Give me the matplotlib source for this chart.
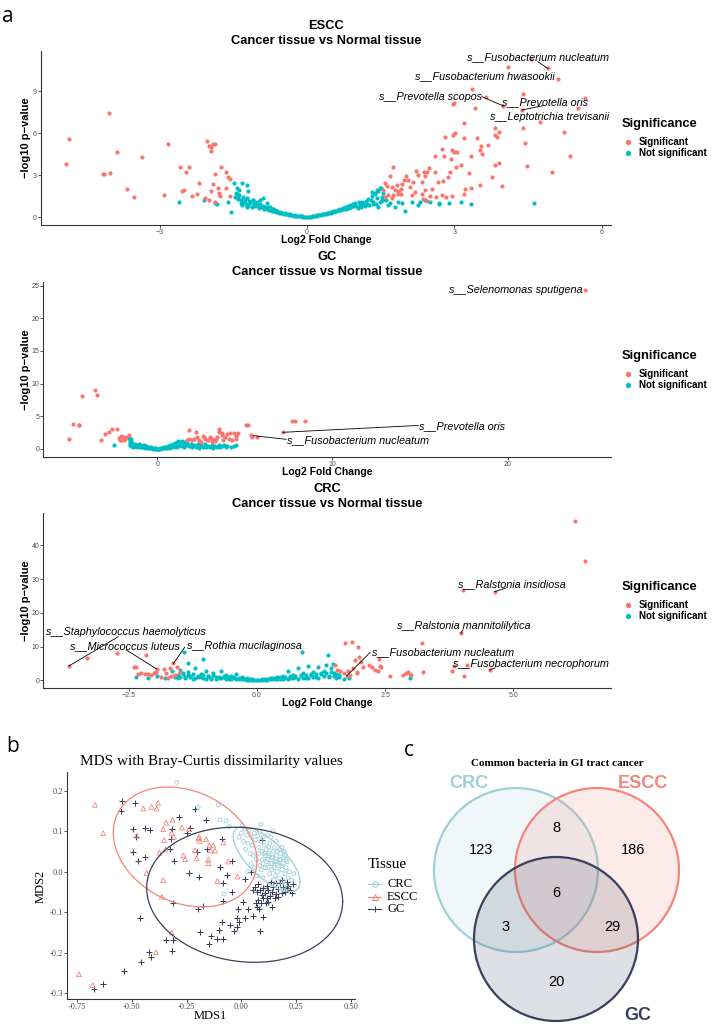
import numpy as np
import matplotlib.pyplot as plt
from matplotlib.lines import Line2D
from matplotlib.patches import Circle

W, H = 715, 1034
RED = '#F8766D'
TEAL = '#00BFC4'
CRC_COL = '#9fd0d8'
ESCC_COL = '#f4857a'
GC_COL = '#3a3f5e'
SANS = 'Liberation Sans'
SERIF = 'Liberation Serif'

# ---------------- volcano data (log2 fold change, -log10 p) ----------------
escc_sig = [(-4.91, 3.79), (-4.84, 5.57), (-4.02, 7.43), (-4.16, 3.05), (-4.13, 3.05), (-4.01, 3.12),
            (-3.86, 4.64), (-3.67, 2.02), (-3.52, 1.45), (-3.35, 4.26), (-2.90, 1.57), (-2.82, 5.21),
            (-2.59, 3.60), (-2.46, 3.19), (-2.40, 3.55), (-2.55, 1.86), (-2.50, 1.90), (-2.34, 1.52),
            (-2.24, 1.67), (-2.19, 2.40), (-2.08, 1.33), (-2.04, 5.43), (-2.00, 5.10), (-1.96, 5.02),
            (-1.91, 5.19), (-1.87, 5.21), (-1.96, 4.74), (-1.99, 1.21), (-1.96, 1.86), (-1.91, 2.33),
            (-1.87, 3.05), (-1.81, 2.05), (-1.77, 1.50), (-1.75, 3.60), (-1.65, 3.24), (-1.64, 2.10),
            (-1.60, 2.88), (-1.56, 2.71), (-1.57, 1.52), (-1.79, 1.74), (-1.88, 1.10),
            (4.56, 11.31), (4.90, 10.62), (4.09, 10.74), (5.11, 9.88), (3.37, 9.12), (4.39, 8.76),
            (3.65, 8.55), (3.00, 8.12), (2.98, 8.08), (4.00, 7.93), (3.42, 7.76), (5.66, 8.52),
            (5.51, 7.76), (4.37, 7.64), (4.75, 6.76), (4.39, 6.38), (3.82, 6.33), (3.83, 5.86),
            (3.86, 5.74), (3.92, 6.10), (5.24, 6.07), (3.19, 6.69), (3.02, 5.98), (2.98, 5.86),
            (2.82, 5.74), (3.20, 5.62), (3.46, 5.62), (4.44, 5.31), (3.54, 5.10), (3.52, 4.79),
            (3.57, 4.50), (3.69, 5.14), (2.74, 4.83), (2.95, 4.79), (3.00, 4.67), (3.05, 4.62),
            (2.93, 4.17), (3.03, 3.60), (3.14, 3.71), (2.61, 4.38), (2.80, 4.38), (5.36, 4.36),
            (3.35, 4.38), (3.29, 3.12), (3.90, 3.83), (3.82, 3.71), (4.47, 3.67), (4.98, 3.24),
            (3.77, 2.88), (3.98, 2.24), (3.52, 2.29), (3.33, 2.05), (3.22, 2.00), (3.19, 1.62),
            (2.91, 3.24), (2.87, 2.88), (2.76, 2.57), (2.67, 2.48), (2.61, 3.24), (2.48, 3.48),
            (2.44, 3.19), (2.40, 2.95), (2.38, 3.19), (2.34, 2.52), (2.27, 3.00), (2.23, 3.31),
            (2.16, 2.52), (2.10, 2.17), (2.06, 2.64), (2.01, 2.93), (1.97, 2.64), (1.75, 3.55),
            (1.69, 2.95), (1.58, 2.45), (1.64, 2.21), (1.74, 2.12), (1.83, 2.29), (1.93, 2.36),
            (1.91, 2.00), (1.91, 1.64), (1.85, 1.62), (1.79, 1.93), (1.86, 1.83), (1.76, 1.57),
            (1.66, 1.60), (1.73, 1.33), (1.55, 1.93), (1.59, 1.45), (2.74, 1.57), (2.84, 1.45),
            (2.95, 1.52), (2.51, 1.52), (2.55, 2.00), (2.63, 1.45), (2.40, 1.95), (2.34, 1.67),
            (2.20, 1.79), (2.13, 1.55), (2.37, 1.31), (2.44, 1.12)]
escc_ns = [(-2.60, 1.10), (-2.10, 1.21), (-1.87, 0.98), (-1.83, 0.93), (-1.60, 1.05), (-1.55, 0.38),
           (-1.48, 2.45), (-1.43, 2.05), (-1.38, 1.93), (-1.32, 2.45), (-1.22, 2.29), (-1.19, 1.88),
           (-1.47, 1.45), (-1.40, 1.33), (-1.35, 0.98), (-1.26, 1.21), (-1.23, 0.74), (-1.16, 1.10),
           (-1.09, 1.21), (-1.03, 0.98), (-0.96, 1.21), (-0.89, 1.33), (-0.82, 0.98), (-0.75, 0.74),
           (-0.69, 0.55),
           (-1.45, 1.75), (-1.42, 1.62), (-1.40, 1.30), (-1.38, 1.55), (-1.35, 1.20), (-1.33, 0.85),
           (-1.30, 1.45), (-1.28, 1.05), (-1.25, 0.95), (-1.22, 1.35), (-1.20, 0.80), (-1.18, 1.15),
           (-1.15, 1.02), (-1.12, 0.70), (-1.10, 1.25), (-1.08, 0.90), (-1.05, 0.78), (-1.02, 1.05),
           (-1.00, 0.88), (-0.98, 0.65), (-0.95, 0.95), (-0.92, 0.72), (-0.90, 0.82), (-0.88, 0.60),
           (-0.85, 0.75), (-0.82, 0.55), (-0.80, 0.68), (-0.77, 0.50), (-0.75, 0.62), (-0.72, 0.45),
           (-0.70, 0.55), (-0.67, 0.40), (-0.65, 0.48), (-0.62, 0.35), (-0.60, 0.42), (-0.57, 0.30),
           (-0.55, 0.36), (-0.52, 0.26), (-0.50, 0.31), (-0.47, 0.22), (-0.45, 0.27), (-0.42, 0.19),
           (-0.40, 0.23), (-0.37, 0.16), (-0.35, 0.19), (-0.32, 0.13), (-0.30, 0.15), (-0.27, 0.10),
           (-0.25, 0.12), (-0.22, 0.08), (-0.20, 0.09), (-0.17, 0.06), (-0.15, 0.07), (-0.12, 0.04),
           (-0.10, 0.05), (-0.07, 0.03), (-0.05, 0.02), (-0.02, 0.01),
           (0.02, 0.01), (0.05, 0.02), (0.08, 0.03), (0.10, 0.05), (0.13, 0.06), (0.15, 0.08),
           (0.18, 0.09), (0.20, 0.11), (0.23, 0.13), (0.25, 0.15), (0.28, 0.14), (0.30, 0.18),
           (0.33, 0.20), (0.35, 0.23), (0.38, 0.22), (0.40, 0.27), (0.43, 0.30), (0.45, 0.26),
           (0.48, 0.35), (0.50, 0.32), (0.53, 0.40), (0.55, 0.36), (0.58, 0.45), (0.60, 0.41),
           (0.63, 0.52), (0.65, 0.47), (0.68, 0.58), (0.70, 0.50), (0.73, 0.65), (0.75, 0.55),
           (0.78, 0.72), (0.80, 0.60), (0.83, 0.80), (0.85, 0.66), (0.88, 0.85), (0.90, 0.70),
           (0.93, 0.92), (0.95, 0.78), (0.98, 1.00), (1.00, 0.82), (1.03, 0.65), (1.05, 1.05),
           (1.08, 0.88), (1.10, 0.72), (1.13, 1.10), (1.15, 0.95), (1.18, 0.78), (1.20, 1.15),
           (1.22, 0.92), (1.25, 1.30), (1.27, 0.85), (1.30, 1.20), (1.32, 1.50), (1.35, 1.05),
           (1.38, 1.65), (1.40, 0.95), (1.42, 1.35), (1.45, 1.85), (1.48, 1.10), (1.50, 2.05),
           (1.52, 1.40), (1.55, 1.20),
           (4.62, 1.02), (3.35, 0.90), (3.14, 1.10), (2.90, 0.98), (2.68, 1.02), (2.68, 0.93),
           (2.50, 1.10), (2.40, 1.21), (2.30, 1.10), (2.27, 0.86), (2.13, 1.10), (1.99, 0.45),
           (1.93, 0.98), (1.79, 0.74), (1.66, 0.86), (1.52, 1.21), (1.38, 1.69), (1.32, 1.81),
           (1.49, 2.05), (1.42, 1.93), (1.55, 1.70), (1.60, 1.20), (1.70, 1.00), (1.85, 1.05),
           (1.45, 0.75), (1.35, 0.90)]

gc_sig = [(-5.03, 1.48), (-4.84, 3.83), (-4.50, 3.60), (-4.48, 3.72), (-4.29, 8.16), (-3.58, 9.03),
          (-3.43, 8.32), (-3.22, 1.43), (-2.97, 2.24), (-2.78, 2.55), (-2.59, 3.11), (-2.29, 3.11),
          (-2.19, 1.70), (-2.10, 1.45), (-1.98, 1.85), (-1.90, 1.40), (-1.79, 1.80), (-1.64, 2.10),
          (-2.15, 1.30), (-2.05, 2.00), (-1.85, 1.60), (1.70, 1.40), (1.80, 1.50), (1.83, 2.86),
          (1.98, 1.30), (2.11, 1.60), (2.19, 2.55), (2.27, 1.90), (2.36, 1.40), (2.49, 1.10),
          (2.60, 2.00), (2.65, 1.80), (2.74, 1.50), (2.88, 1.30), (2.99, 1.90), (3.10, 1.10),
          (3.12, 1.60), (3.20, 1.40), (3.30, 1.20), (3.35, 1.50), (3.43, 1.90), (3.50, 2.60),
          (3.54, 3.00), (3.68, 2.10), (3.72, 2.45), (3.77, 1.40), (3.88, 1.90), (3.96, 2.30),
          (4.07, 1.60), (4.17, 2.50), (4.27, 1.40), (4.36, 2.50), (4.48, 1.60), (4.50, 2.00),
          (4.60, 2.50), (5.07, 3.67), (5.15, 3.62), (5.33, 2.14), (5.43, 1.89), (5.68, 1.89),
          (7.16, 2.55), (7.68, 4.23), (7.87, 4.23), (8.42, 4.23), (24.44, 24.35)]
gc_ns = [(-2.48, 0.56), (-1.60, 1.70), (-1.58, 1.35), (-1.57, 1.05), (-1.55, 0.80), (-1.55, 0.55),
         (-1.52, 1.50), (-1.50, 0.40), (-1.48, 1.20), (-1.45, 0.65), (-1.42, 0.90), (-1.40, 0.35),
         (-1.35, 0.55), (-1.30, 0.75), (-1.25, 0.40), (-1.20, 0.60), (-1.15, 0.30), (-1.10, 0.50),
         (-1.05, 0.70), (-1.00, 0.35), (-0.95, 0.55), (-0.90, 0.25), (-0.85, 0.45), (-0.80, 0.30),
         (-0.75, 0.60), (-0.70, 0.20), (-0.65, 0.40), (-0.60, 0.25), (-0.55, 0.15), (-0.50, 0.35),
         (-0.45, 0.20), (-0.40, 0.10), (-0.35, 0.25), (-0.30, 0.12), (-0.25, 0.06), (-0.20, 0.15),
         (-0.15, 0.05), (-0.10, 0.08), (-0.05, 0.02), (0.00, 0.01), (0.05, 0.03), (0.10, 0.06),
         (0.15, 0.04), (0.20, 0.10), (0.25, 0.15), (0.30, 0.08), (0.35, 0.20), (0.40, 0.28),
         (0.45, 0.12), (0.50, 0.35), (0.55, 0.22), (0.60, 0.45), (0.65, 0.30), (0.70, 0.55),
         (0.75, 0.18), (0.80, 0.65), (0.85, 0.40), (0.90, 0.75), (0.95, 0.28), (1.00, 0.90),
         (1.05, 0.50), (1.10, 1.05), (1.15, 0.35), (1.20, 1.20), (1.25, 0.65), (1.30, 1.10),
         (1.35, 0.45), (1.40, 1.25), (1.45, 0.80), (1.50, 0.95), (1.55, 0.30), (1.60, 1.10),
         (1.65, 0.55), (1.70, 0.85), (1.80, 0.40), (1.90, 0.70), (2.00, 0.25), (2.10, 0.60),
         (2.20, 0.35), (2.30, 0.80), (2.40, 0.20), (2.50, 0.55), (2.60, 0.30), (2.70, 0.70),
         (2.80, 0.25), (2.90, 0.50), (3.00, 0.35), (3.10, 0.65), (3.20, 0.20), (3.30, 0.45),
         (3.40, 0.30), (3.50, 0.55), (3.60, 0.25), (3.70, 0.40), (3.80, 0.60), (3.90, 0.25),
         (4.00, 0.45), (4.20, 0.30), (4.40, 0.50), (4.50, 0.65)]

crc_sig = [(-3.67, 4.25), (-3.31, 6.70), (-2.73, 8.20), (-2.17, 7.50), (-2.40, 4.00), (-2.36, 3.80),
           (-2.32, 2.00), (-2.26, 2.10), (-2.19, 1.90), (-2.13, 1.80), (-2.06, 1.60), (-2.01, 2.10),
           (-1.96, 3.36), (-1.97, 2.60), (-1.82, 3.40), (-1.78, 2.30), (-1.70, 3.50), (-1.63, 5.00),
           (-1.57, 4.00), (-1.50, 2.40), (-1.60, 1.60), (-1.67, 1.30), (-1.87, 1.10), (-1.74, 0.60),
           (1.52, 4.54), (1.56, 3.06), (1.62, 2.86), (1.69, 2.07), (1.72, 10.96), (1.85, 11.46),
           (1.88, 3.56), (1.95, 2.57), (1.98, 9.98), (1.82, 1.58), (1.75, 1.28), (1.78, 2.77),
           (1.91, 6.02), (2.00, 7.00), (1.95, 2.07), (2.04, 5.53), (2.06, 4.05), (2.19, 4.54),
           (2.25, 3.85), (2.30, 3.06), (2.36, 2.86), (2.40, 4.35), (2.43, 4.05), (2.38, 6.22),
           (2.60, 1.38), (2.85, 1.58), (2.90, 2.07), (2.94, 2.47), (2.98, 1.88), (3.00, 1.58),
           (3.22, 11.16), (3.25, 2.57), (3.80, 2.86), (3.84, 4.25), (3.98, 13.93), (4.03, 26.77),
           (4.04, 1.38), (4.10, 4.64), (4.54, 3.06), (4.64, 26.27), (6.21, 47.21), (6.41, 35.36)]
crc_ns = [(-2.37, 0.90), (-2.12, 0.60), (-1.95, 1.20), (-1.80, 0.80), (-1.43, 8.30), (-1.06, 6.30),
          (-1.34, 5.00), (0.87, 8.30), (1.39, 7.50), (1.49, 4.80), (2.99, 0.60), (1.70, 0.40),
          (1.80, 0.60),
          (-1.65, 2.8), (-1.60, 1.2), (-1.55, 0.6), (-1.50, 3.2), (-1.45, 1.8), (-1.40, 0.9),
          (-1.35, 2.5), (-1.30, 1.4), (-1.25, 0.5), (-1.20, 3.6), (-1.15, 1.1), (-1.10, 2.0),
          (-1.05, 0.7), (-1.00, 2.9), (-0.95, 1.3), (-0.90, 0.4), (-0.85, 2.2), (-0.80, 1.0),
          (-0.75, 0.6), (-0.70, 2.8), (-0.65, 0.9), (-0.60, 1.6), (-0.55, 0.4), (-0.50, 1.2),
          (-0.45, 0.7), (-0.40, 2.0), (-0.35, 0.5), (-0.30, 1.0), (-0.25, 0.3), (-0.20, 0.7),
          (-0.15, 0.2), (-0.10, 0.4), (-0.05, 0.1), (0.00, 0.05), (0.05, 0.15), (0.10, 0.3),
          (0.15, 0.2), (0.20, 0.5), (0.25, 0.3), (0.30, 0.8), (0.35, 0.4), (0.40, 1.1),
          (0.45, 0.5), (0.50, 1.4), (0.55, 0.6), (0.60, 2.8), (0.65, 0.8), (0.70, 1.6),
          (0.75, 0.9), (0.80, 3.6), (0.85, 1.2), (0.90, 2.2), (0.95, 0.7), (1.00, 4.3),
          (1.05, 1.5), (1.10, 2.6), (1.15, 0.9), (1.20, 4.0), (1.25, 1.8), (1.30, 2.9),
          (1.35, 4.5), (1.40, 1.2), (1.45, 3.6), (1.50, 2.2), (1.55, 0.8), (1.60, 1.6),
          (-1.6, 0.9), (-1.5, 1.1), (-1.4, 0.7), (-1.3, 1.0), (-1.2, 0.6), (-1.1, 0.9),
          (-1.0, 0.5), (-0.9, 0.8), (-0.8, 0.4), (-0.7, 0.7), (-0.6, 0.35), (-0.5, 0.5),
          (-0.4, 0.25), (-0.3, 0.35), (-0.2, 0.15), (-0.1, 0.1), (0.0, 0.02), (0.1, 0.1),
          (0.2, 0.2), (0.3, 0.3), (0.4, 0.25), (0.5, 0.45), (0.6, 0.4), (0.7, 0.6),
          (0.8, 0.5), (0.9, 0.8), (1.0, 0.6), (1.1, 1.0), (1.2, 0.7), (1.3, 1.2),
          (1.4, 0.9), (1.5, 1.3), (1.6, 1.0),
          (-1.55, 1.6), (-1.45, 2.2), (-1.35, 1.5), (-1.25, 1.9), (-1.15, 1.4), (-1.05, 1.7),
          (-0.95, 1.2), (-0.85, 1.5), (-0.75, 1.1), (-0.65, 1.3), (-0.55, 0.9), (-0.45, 1.0),
          (-0.35, 0.7), (-0.25, 0.5), (-0.15, 0.4), (0.15, 0.4), (0.25, 0.6), (0.35, 0.8),
          (0.45, 0.9), (0.55, 1.1), (0.65, 1.2), (0.75, 1.4), (0.85, 1.5), (0.95, 1.7),
          (1.05, 1.9), (1.15, 2.0), (1.25, 2.3), (1.35, 2.1), (1.45, 2.5), (1.55, 2.0)]

# labelled species: text, text centre (x, y), leader line start -> end (or None)
escc_labels = [("s__Fusobacterium nucleatum", 4.70, 11.40, (4.70, 11.10, 4.90, 10.62)),
               ("s__Fusobacterium hwasookii", 3.62, 10.07, None),
               ("s__Prevotella scopos", 2.51, 8.60, (3.56, 8.60, 4.00, 7.93)),
               ("s__Prevotella oris", 4.85, 8.19, (4.37, 7.64, 4.80, 7.95)),
               ("s__Leptotrichia trevisanii", 4.94, 7.17, None)]
gc_labels = [("s__Selenomonas sputigena", 20.46, 24.35, None),
             ("s__Prevotella oris", 17.4, 3.52, (14.9, 3.6, 7.16, 2.55)),
             ("s__Fusobacterium nucleatum", 11.44, 1.38, (7.35, 1.48, 5.49, 2.04))]
crc_labels = [("s__Staphylococcus haemolyticus", -2.55, 14.42, (-2.71, 12.9, -3.67, 4.25)),
              ("s__Micrococcus luteus", -2.58, 10.17, (-2.55, 9.0, -1.96, 3.36)),
              ("s__Rothia mucilaginosa", -0.24, 10.17, (-1.41, 9.8, -1.63, 5.0)),
              ("s__Fusobacterium nucleatum", 3.63, 8.49, (2.21, 8.3, 1.75, 1.28)),
              ("s__Ralstonia insidiosa", 4.97, 28.5, (4.85, 27.3, 4.64, 26.27)),
              ("s__Ralstonia mannitolilytica", 4.04, 16.2, (4.02, 15.0, 3.98, 13.93)),
              ("s__Fusobacterium necrophorum", 5.34, 4.84, (4.65, 3.7, 4.54, 3.06))]

# ---------------- MDS data ----------------
mds_crc = [(-0.296, 0.220), (-0.197, 0.159), (-0.105, 0.165), (-0.098, 0.128), (-0.070, 0.126),
           (-0.055, 0.111), (0.090, 0.117), (-0.079, -0.055),
           (0.000, 0.095), (0.015, 0.105), (0.025, 0.090), (0.035, 0.100), (0.045, 0.085), (0.010, 0.075),
           (0.030, 0.070), (0.050, 0.065), (0.060, 0.095), (0.065, 0.078), (0.075, 0.088), (0.080, 0.060),
           (0.085, 0.100), (0.090, 0.075), (0.095, 0.050), (0.100, 0.085), (0.105, 0.065), (0.110, 0.040),
           (0.115, 0.055), (0.120, 0.030), (0.125, 0.045), (0.130, 0.070), (0.135, 0.020), (0.140, 0.035),
           (0.145, 0.050), (0.150, 0.010), (0.155, 0.025), (0.160, 0.040), (0.165, 0.000), (0.170, 0.015),
           (0.175, 0.030), (0.180, 0.045), (0.185, 0.005), (0.190, 0.020), (0.195, 0.035), (0.200, -0.005),
           (0.205, 0.010), (0.210, 0.025), (0.215, -0.015), (0.220, 0.000), (0.140, 0.005), (0.150, 0.060),
           (0.160, 0.075), (0.120, 0.090), (0.110, 0.010), (0.100, 0.020), (0.130, -0.005), (0.150, -0.020),
           (0.170, -0.030), (0.190, -0.045), (0.210, -0.040), (0.230, -0.020), (0.240, -0.005), (0.175, 0.055),
           (0.195, 0.050), (0.135, 0.085), (0.145, 0.100), (0.055, 0.040), (0.070, 0.030), (0.085, 0.015),
           (0.040, 0.045), (0.020, 0.055), (-0.010, 0.085), (0.005, 0.115), (0.125, 0.060), (0.165, 0.050),
           (0.185, 0.060), (0.200, 0.040), (0.115, 0.025), (0.090, 0.005), (0.155, -0.010), (0.175, -0.015),
           (0.195, -0.025), (0.120, 0.010), (0.140, 0.020), (0.160, 0.025), (0.180, 0.030), (0.145, 0.035),
           (0.165, 0.020), (0.185, 0.015), (0.205, 0.030), (0.125, 0.040), (0.105, 0.045), (0.095, 0.030),
           (0.080, 0.045), (0.060, 0.010), (0.045, 0.020), (0.030, 0.000), (0.075, -0.010), (0.100, -0.015)]
mds_escc = [(-0.669, 0.165), (-0.631, 0.095), (-0.742, -0.253), (-0.679, -0.280), (-0.448, 0.156),
            (-0.410, 0.160), (-0.387, 0.156), (-0.381, 0.170), (-0.344, 0.121), (-0.314, 0.128),
            (-0.357, 0.105), (-0.352, 0.078), (-0.319, 0.096), (-0.308, 0.086), (-0.271, 0.109),
            (-0.238, 0.105), (-0.193, 0.086), (-0.161, 0.080), (-0.128, 0.065), (-0.146, 0.065),
            (-0.120, 0.052), (-0.082, 0.072), (-0.346, 0.055), (-0.375, 0.047), (-0.478, 0.089),
            (-0.265, 0.040), (-0.257, 0.031), (-0.212, 0.053), (-0.204, 0.033), (-0.151, 0.030),
            (-0.151, 0.021), (-0.059, 0.025), (-0.140, 0.052), (-0.433, -0.003), (-0.357, -0.021),
            (-0.364, -0.062), (-0.110, -0.023), (-0.018, -0.012), (-0.318, -0.150), (-0.390, -0.199),
            (-0.196, 0.082), (-0.188, 0.076)]
mds_gc = [(-0.547, 0.174), (-0.550, 0.150), (-0.486, 0.169), (-0.494, 0.105), (-0.440, 0.109),
          (-0.482, 0.086), (-0.417, 0.103), (-0.497, 0.049), (-0.471, 0.026), (-0.439, 0.037),
          (-0.315, 0.105), (-0.283, 0.136), (-0.323, 0.080), (-0.326, 0.055), (-0.308, 0.027),
          (-0.250, 0.095), (-0.233, 0.109), (-0.212, 0.155), (-0.163, 0.127), (-0.201, 0.048),
          (-0.238, -0.004), (-0.192, -0.014), (-0.158, 0.055), (-0.098, 0.012), (-0.090, 0.081),
          (-0.067, -0.008), (-0.044, 0.027), (-0.085, -0.029), (-0.044, -0.049), (-0.082, -0.072),
          (-0.177, -0.085), (-0.197, -0.091), (-0.311, -0.078), (-0.463, -0.115), (-0.344, -0.169),
          (-0.314, -0.169), (-0.317, -0.196), (-0.420, -0.199), (-0.413, -0.210), (-0.459, -0.222),
          (-0.536, -0.244), (-0.631, -0.277), (-0.673, -0.290), (-0.189, -0.150), (-0.146, -0.179),
          (-0.140, -0.159), (-0.113, -0.165), (-0.082, -0.166), (-0.102, -0.144), (-0.090, -0.123),
          (-0.052, -0.132), (-0.032, -0.146), (-0.018, -0.137), (-0.009, -0.125), (0.009, -0.074),
          (-0.017, -0.092), (0.017, -0.114), (-0.021, -0.114), (0.017, -0.019), (0.043, -0.002),
          (0.085, -0.146), (0.100, -0.111), (0.070, -0.086), (0.055, -0.109), (0.032, -0.092),
          (0.096, 0.077),
          (0.062, -0.037), (0.078, -0.030), (0.085, -0.045), (0.101, -0.041), (0.108, -0.053),
          (0.116, -0.035), (0.123, -0.045), (0.131, -0.060), (0.139, -0.049), (0.146, -0.039),
          (0.154, -0.066), (0.161, -0.055), (0.169, -0.044), (0.177, -0.029), (0.184, -0.021),
          (0.192, -0.037), (0.200, -0.049), (0.207, -0.025), (0.215, -0.035), (0.222, -0.045),
          (0.230, -0.052), (0.238, -0.030), (0.184, -0.053), (0.169, -0.062), (0.123, -0.074),
          (0.116, -0.066), (0.093, -0.058), (0.070, -0.049), (0.134, -0.025), (0.158, -0.029),
          (0.210, -0.041), (0.101, -0.066), (0.078, -0.070), (0.052, -0.045), (0.139, -0.086),
          (0.090, -0.078), (0.067, -0.078), (0.082, -0.091), (0.113, -0.078)]
# stat_ellipse summaries: centre x, centre y, half-range x, half-range y, correlation
ell_crc = (0.116, 0.031, 0.153, 0.080, -0.706)
ell_escc = (-0.257, 0.061, 0.3285, 0.148, -0.237)
ell_gc = (0.0155, -0.057, 0.448, 0.1667, -0.10)

# ---------------- Venn counts ----------------
venn_sets = ["CRC", "ESCC", "GC"]
venn_counts = {"CRC": 123, "ESCC": 186, "GC": 20, "CRC&ESCC": 8, "CRC&GC": 3, "ESCC&GC": 29, "all": 6}

fig = plt.figure(figsize=(W / 100, H / 100), dpi=100)


def add_ax(x0, y0, x1, y1):
    return fig.add_axes([x0 / W, 1 - y1 / H, (x1 - x0) / W, (y1 - y0) / H])


def ftext(x, y, s, **kw):
    fig.text(x / W, 1 - y / H, s, **kw)


def style_axes(ax, font, size):
    for side in ['top', 'right']:
        ax.spines[side].set_visible(False)
    for side in ['left', 'bottom']:
        ax.spines[side].set_color('#333333')
        ax.spines[side].set_linewidth(0.8)
    ax.tick_params(length=2, width=0.6, color='#333333', labelsize=size,
                   labelcolor='#4d4d4d', pad=0.8)
    for lab in ax.get_xticklabels() + ax.get_yticklabels():
        lab.set_family(font)


def volcano(box, sig, ns, xlim, ylim, xticks, xticklabels, yticks, name, labels, ty, legy):
    ax = add_ax(*box)
    x, y = zip(*ns)
    ax.scatter(x, y, s=9, c=TEAL, lw=0, zorder=2)
    x, y = zip(*sig)
    ax.scatter(x, y, s=9, c=RED, lw=0, zorder=3)
    ax.set_xlim(*xlim)
    ax.set_ylim(*ylim)
    ax.set_xticks(xticks)
    ax.set_xticklabels(xticklabels)
    ax.set_yticks(yticks)
    style_axes(ax, SANS, 5)
    for text, tx, tyy, line in labels:
        ax.text(tx, tyy, text, fontsize=7.8, style='italic', family=SANS, ha='center', va='center', zorder=4)
        if line:
            ax.plot([line[0], line[2]], [line[1], line[3]], color='black', lw=0.6, zorder=4)
    cx = (box[0] + box[2]) / 2
    ftext(cx, ty, name, ha='center', va='center', fontsize=9.3, fontweight='bold', family=SANS)
    ftext(cx, ty + 15, "Cancer tissue vs Normal tissue", ha='center', va='center', fontsize=9.3,
          fontweight='bold', family=SANS)
    ftext(cx, box[3] + 15, "Log2 Fold Change", ha='center', va='center', fontsize=7.5,
          fontweight='bold', family=SANS)
    ftext(26, (box[1] + box[3]) / 2, "\u2212log10 p\u2212value", ha='center', va='center', rotation=90,
          fontsize=8, fontweight='bold', family=SANS)
    # legend
    ftext(622, legy, "Significance", ha='left', va='center', fontsize=9.3, fontweight='bold', family=SANS)
    for i, (lab, col) in enumerate([("Significant", RED), ("Not significant", TEAL)]):
        yy = legy + 18 + 11 * i
        fig.add_artist(Line2D([628 / W], [1 - yy / H], marker='o', ms=2.8, color=col, lw=0,
                              transform=fig.transFigure))
        ftext(639, yy, lab, ha='left', va='center', fontsize=7, fontweight='bold', family=SANS)
    return ax


volcano((40.7, 50.7, 611, 225), escc_sig, escc_ns, (-5.42, 6.19), (-0.57, 11.88),
        [-3, 0, 3, 6], ['\u22123', '0', '3', '6'], [0, 3, 6, 9], "ESCC", escc_labels, 26, 124)
volcano((43.3, 282.3, 611, 456.7), gc_sig, gc_ns, (-6.51, 25.9), (-1.18, 25.5),
        [0, 10, 20], ['0', '10', '20'], [0, 5, 10, 15, 20, 25], "GC", gc_labels, 257, 356)
volcano((43.3, 513.3, 611, 688.3), crc_sig, crc_ns, (-4.17, 6.91), (-2.37, 49.5),
        [-2.5, 0, 2.5, 5.0], ['\u22122.5', '0.0', '2.5', '5.0'], [0, 10, 20, 30, 40], "CRC", crc_labels, 489, 587)

# ---------------- panel b: MDS ----------------
ax = add_ax(67, 772, 355, 999.3)
x, y = zip(*mds_gc)
ax.scatter(x, y, s=24, marker='+', c=GC_COL, lw=0.75, zorder=2)
x, y = zip(*mds_escc)
ax.scatter(x, y, s=12, marker='^', facecolors='none', edgecolors=ESCC_COL, lw=0.6, zorder=3)
x, y = zip(*mds_crc)
ax.scatter(x, y, s=8, marker='o', facecolors='none', edgecolors=CRC_COL, lw=0.6, zorder=3)
t = np.linspace(0, 2 * np.pi, 300)
for (cx, cy, hx, hy, rho), col in [(ell_crc, CRC_COL), (ell_escc, ESCC_COL), (ell_gc, GC_COL)]:
    ax.plot(cx + hx * np.cos(t), cy + hy * (rho * np.cos(t) + np.sqrt(1 - rho ** 2) * np.sin(t)),
            color=col, lw=0.9, zorder=4)
ax.set_xlim(-0.797, 0.52)
ax.set_ylim(-0.315, 0.246)
ax.set_xticks([-0.75, -0.5, -0.25, 0, 0.25, 0.5])
ax.set_xticklabels(['-0.75', '-0.50', '-0.25', '0.00', '0.25', '0.50'])
ax.set_yticks([-0.3, -0.2, -0.1, 0.0, 0.1, 0.2])
ax.set_yticklabels(['-0.3', '-0.2', '-0.1', '0.0', '0.1', '0.2'])
style_axes(ax, SERIF, 6)
ftext(211, 761, "MDS with Bray-Curtis dissimilarity values", ha='center', va='center', fontsize=11,
      family=SERIF)
ftext(210, 1016, "MDS1", ha='center', va='center', fontsize=9, family=SERIF)
ftext(41, 886, "MDS2", ha='center', va='center', fontsize=9, family=SERIF, rotation=90)
ftext(368, 864, "Tissue", ha='left', va='center', fontsize=11, family=SERIF)
for i, (lab, col, mk) in enumerate([("CRC", CRC_COL, 'o'), ("ESCC", ESCC_COL, '^'), ("GC", GC_COL, '+')]):
    yy = 884 + 12.5 * i
    fig.add_artist(Line2D([368 / W, 381 / W], [1 - yy / H] * 2, color=col, lw=0.8,
                          transform=fig.transFigure))
    fig.add_artist(Line2D([374.5 / W], [1 - yy / H], marker=mk, ms=4, mfc='none', mec=col, mew=0.7,
                          lw=0, transform=fig.transFigure))
    ftext(387, yy, lab, ha='left', va='center', fontsize=9, family=SERIF)

# ---------------- panel c: Venn ----------------
vx = add_ax(430, 740, 715, 1034)
vx.set_xlim(430, 715)
vx.set_ylim(1034, 740)
vx.axis('off')
centres = {"CRC": (516, 870), "ESCC": (597, 870), "GC": (556, 939)}
cols = {"CRC": CRC_COL, "ESCC": ESCC_COL, "GC": GC_COL}
for s in venn_sets:
    vx.add_patch(Circle(centres[s], 82, facecolor=cols[s], alpha=0.16, lw=0))
    vx.add_patch(Circle(centres[s], 82, facecolor='none', edgecolor=cols[s], lw=1.6))
region_pos = {"CRC": (481, 850), "ESCC": (633, 850), "GC": (556, 982), "CRC&ESCC": (556, 828),
              "CRC&GC": (506, 927), "ESCC&GC": (612, 927), "all": (556, 893)}
for key, val in venn_counts.items():
    vx.text(*region_pos[key], str(val), ha='center', va='center', fontsize=10.5, family=SANS)
vx.text(469, 784, "CRC", ha='center', va='center', fontsize=13, fontweight='bold', color=CRC_COL, family=SANS)
vx.text(643, 784, "ESCC", ha='center', va='center', fontsize=13, fontweight='bold', color=ESCC_COL, family=SANS)
vx.text(638, 1015, "GC", ha='center', va='center', fontsize=13, fontweight='bold', color=GC_COL, family=SANS)
ftext(557, 763, "Common bacteria in GI tract cancer", ha='center', va='center', fontsize=8,
      fontweight='bold', family=SERIF)

# panel letters
ftext(8, 17, "a", ha='center', va='center', fontsize=15, family='Open Sans')
ftext(13, 747, "b", ha='center', va='center', fontsize=15, family='Open Sans')
ftext(409, 750, "c", ha='center', va='center', fontsize=15, family='Open Sans')

fig.savefig("out.png", dpi=100)
